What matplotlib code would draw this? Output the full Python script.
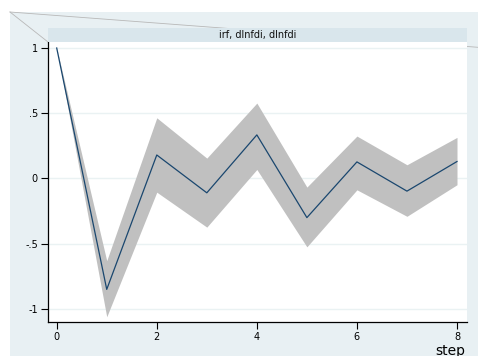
import matplotlib
matplotlib.use("Agg")
import matplotlib.pyplot as plt
from matplotlib.lines import Line2D
from matplotlib.patches import Rectangle

# impulse response of dlnfdi to its own shock, with confidence band
steps = [0, 1, 2, 3, 4, 5, 6, 7, 8]
irf = [1.0, -0.85, 0.18, -0.11, 0.334, -0.30, 0.127, -0.097, 0.13]
ci_upper = [1.0, -0.63, 0.465, 0.156, 0.578, -0.066, 0.325, 0.105, 0.315]
ci_lower = [1.0, -1.06, -0.105, -0.373, 0.069, -0.524, -0.087, -0.29, -0.048]

y_ticks = [-1, -0.5, 0, 0.5, 1]
y_labels = ["-1", "-.5", "0", ".5", "1"]
x_ticks = [0, 2, 4, 6, 8]

W, H = 478, 356
BG = "#e8f0f3"
STRIP = "#d9e6ec"
NAVY = "#1a476f"
BAND = "#c0c0c0"

fig = plt.figure(figsize=(W / 100, H / 100), dpi=100)
fig.patch.set_facecolor("white")

# graph region background
fig.add_artist(Rectangle((10 / W, 0), 1, 1 - 12 / H, transform=fig.transFigure,
                         facecolor=BG, edgecolor="none", zorder=-2))
fig.add_artist(Line2D([10 / W, 48 / W], [1 - 12 / H, 1 - 42 / H],
                      transform=fig.transFigure, color="#b8b8b8", lw=0.6, zorder=-1))
fig.add_artist(Line2D([10 / W, 478 / W], [1 - 12 / H, 1 - 47.3 / H],
                      transform=fig.transFigure, color="#b8b8b8", lw=0.6, zorder=-1))

left, right = 47.7 / W, 467 / W
bottom, top = 1 - 322 / H, 1 - 42 / H
ax = fig.add_axes([left, bottom, right - left, top - bottom])

# title strip
strip = fig.add_axes([left, top, right - left, (42 - 28) / H])
strip.set_facecolor(STRIP)
strip.set_xticks([])
strip.set_yticks([])
for s in strip.spines.values():
    s.set_visible(False)
strip.text(0.5, 0.5, "irf, dlnfdi, dlnfdi", ha="center", va="center",
           fontsize=7, color="#111111", transform=strip.transAxes)

ax.fill_between(steps, ci_lower, ci_upper, color=BAND, lw=0, zorder=2)
ax.plot(steps, irf, color=NAVY, lw=0.9, zorder=3)

ax.set_xlim(-0.18, 8.2)
ax.set_ylim(-1.1, 1.046)
ax.set_yticks(y_ticks)
ax.set_yticklabels(y_labels)
ax.set_xticks(x_ticks)
ax.grid(axis="y", color="#eaf2f3", lw=1, zorder=0)
ax.set_axisbelow(True)

for side in ("top", "right"):
    ax.spines[side].set_visible(False)
for side in ("left", "bottom"):
    ax.spines[side].set_color("black")
    ax.spines[side].set_linewidth(0.9)
ax.tick_params(direction="out", length=5, width=0.8, labelsize=7, pad=2)

fig.text(435 / W, 1 / H, "step", fontsize=10, va="baseline", ha="left")

fig.savefig("out.png", dpi=100)
